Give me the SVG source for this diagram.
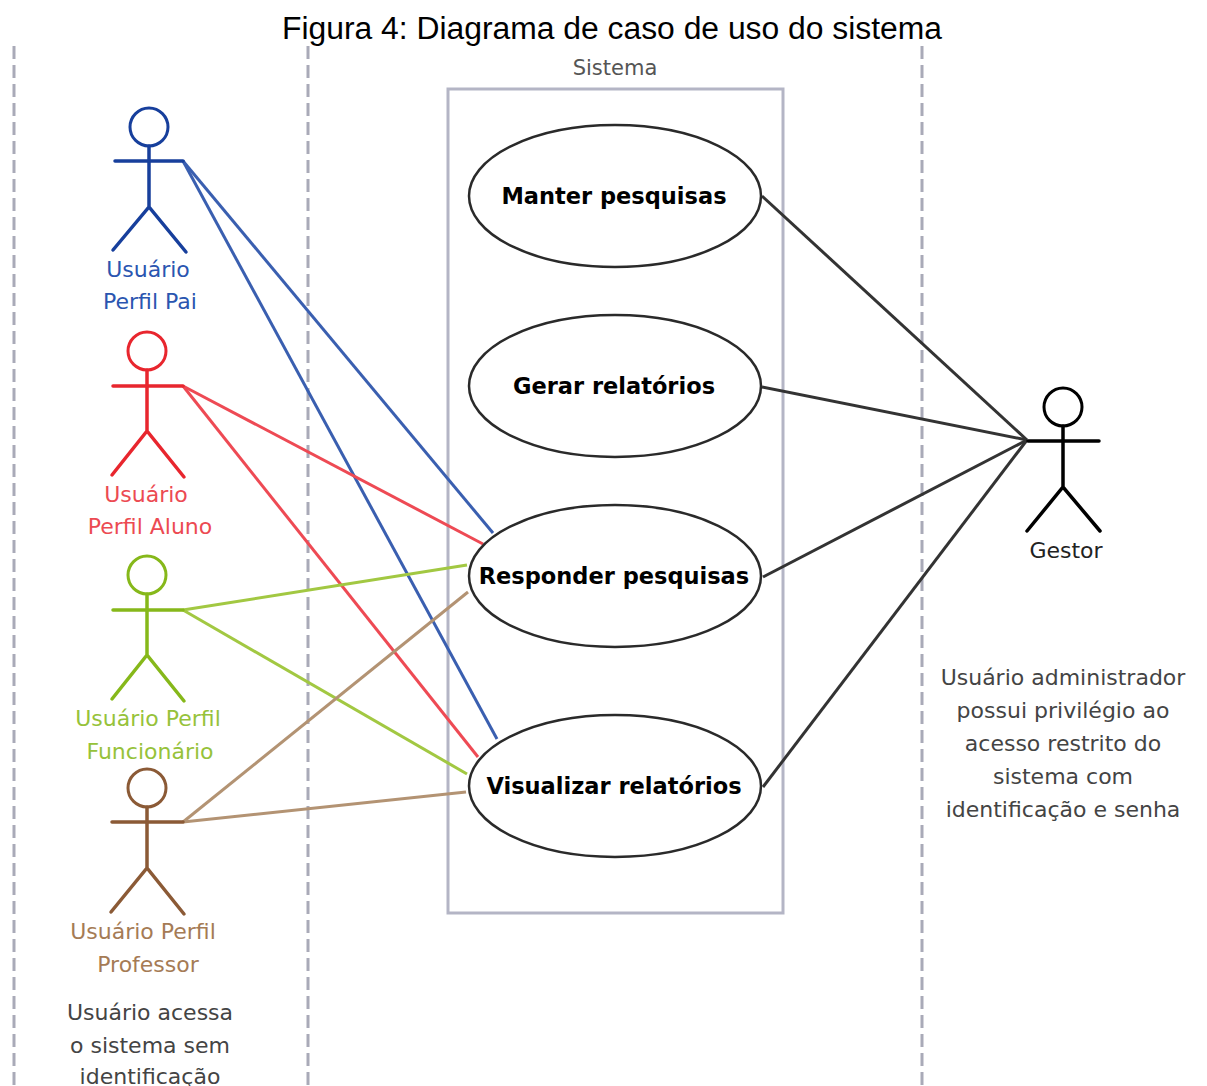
<svg xmlns="http://www.w3.org/2000/svg" width="1207" height="1086" viewBox="0 0 1207 1086">
<style>
.lane{stroke:#a9aab8;stroke-width:3;stroke-dasharray:13 6;fill:none}
.sys{fill:none;stroke:#b4b5c5;stroke-width:3}
.uc ellipse{fill:#fff;stroke:#2a2a2a;stroke-width:2.5}
.uc text{font-family:"DejaVu Sans",Verdana,sans-serif;font-weight:bold;font-size:22.5px;fill:#000;text-anchor:middle}
.actor circle{fill:#fff;stroke-width:3}
.actor path{fill:none;stroke-width:3.5;stroke-linecap:round}
.lbl{font-family:"DejaVu Sans",Verdana,sans-serif;font-size:22px;text-anchor:middle}
.note{font-family:"DejaVu Sans",Verdana,sans-serif;font-size:22px;text-anchor:middle;fill:#444}
.conn line{stroke-width:3;fill:none}
</style>
<rect width="1207" height="1086" fill="#fff"/>
<text x="612" y="39" font-family="Liberation Sans,Arial,sans-serif" font-size="31" text-anchor="middle" textLength="660" lengthAdjust="spacingAndGlyphs" fill="#000">Figura 4: Diagrama de caso de uso do sistema</text>
<g id="lanes">
<line class="lane" x1="14" y1="46" x2="14" y2="1086"/>
<line class="lane" x1="308" y1="46" x2="308" y2="1086"/>
<line class="lane" x1="922" y1="46" x2="922" y2="1086"/>
</g>
<g id="system">
<rect class="sys" x="448" y="89" width="335" height="824"/>
<text class="note" x="615" y="75" style="fill:#555;font-size:21px">Sistema</text>
</g>
<g id="connectors" class="conn">
<line x1="183" y1="161" x2="493" y2="533" stroke="#3a5fb0"/>
<line x1="183" y1="161" x2="497" y2="739" stroke="#3a5fb0"/>
<line x1="183" y1="386" x2="483" y2="544" stroke="#ee4a54"/>
<line x1="183" y1="386" x2="478" y2="757" stroke="#ee4a54"/>
<line x1="183" y1="610" x2="467" y2="565" stroke="#a2c842"/>
<line x1="183" y1="610" x2="467" y2="774" stroke="#a2c842"/>
<line x1="183" y1="822" x2="468" y2="592" stroke="#b39373"/>
<line x1="183" y1="822" x2="466" y2="792" stroke="#b39373"/>
<line x1="762" y1="196" x2="1027" y2="440" stroke="#333"/>
<line x1="762" y1="387" x2="1027" y2="440" stroke="#333"/>
<line x1="763" y1="577" x2="1027" y2="440" stroke="#333"/>
<line x1="763" y1="787" x2="1027" y2="440" stroke="#333"/>
</g>
<g id="uc-manter" class="uc">
<ellipse cx="615" cy="196" rx="146" ry="71"/>
<text x="614" y="204">Manter pesquisas</text>
</g>
<g id="uc-gerar" class="uc">
<ellipse cx="615" cy="386" rx="146" ry="71"/>
<text x="614" y="394">Gerar relatórios</text>
</g>
<g id="uc-responder" class="uc">
<ellipse cx="615" cy="576" rx="146" ry="71"/>
<text x="614" y="584">Responder pesquisas</text>
</g>
<g id="uc-visualizar" class="uc">
<ellipse cx="615" cy="786" rx="146" ry="71"/>
<text x="614" y="794">Visualizar relatórios</text>
</g>
<g id="actor-pai" class="actor">
<circle cx="149" cy="127" r="19" stroke="#173f9c"/>
<path d="M149 146V207M115 161H183M113 250L149 207L186 252" stroke="#173f9c"/>
<text class="lbl" x="148" y="277" fill="#2a55b0">Usuário</text>
<text class="lbl" x="150" y="309" fill="#2a55b0">Perfil Pai</text>
</g>
<g id="actor-aluno" class="actor">
<circle cx="147" cy="351" r="19" stroke="#e8262e"/>
<path d="M147 370V431M113 386H183M112 475L147 431L184 477" stroke="#e8262e"/>
<text class="lbl" x="146" y="502" fill="#ec4a52">Usuário</text>
<text class="lbl" x="150" y="534" fill="#ec4a52">Perfil Aluno</text>
</g>
<g id="actor-funcionario" class="actor">
<circle cx="147" cy="575" r="19" stroke="#86b81a"/>
<path d="M147 594V655M113 610H183M112 699L147 655L184 701" stroke="#86b81a"/>
<text class="lbl" x="148" y="726" fill="#96c23a">Usuário Perfil</text>
<text class="lbl" x="150" y="759" fill="#96c23a">Funcionário</text>
</g>
<g id="actor-professor" class="actor">
<circle cx="147" cy="788" r="19" stroke="#8b5a36"/>
<path d="M147 807V868M112 822H183M111 912L147 868L184 914" stroke="#8b5a36"/>
<text class="lbl" x="143" y="939" fill="#a57b55">Usuário Perfil</text>
<text class="lbl" x="148" y="972" fill="#a57b55">Professor</text>
</g>
<g id="note-left">
<text class="note" x="150" y="1020">Usuário acessa</text>
<text class="note" x="150" y="1053">o sistema sem</text>
<text class="note" x="150" y="1084">identificação</text>
</g>
<g id="actor-gestor" class="actor">
<circle cx="1063" cy="407" r="19" stroke="#000"/>
<path d="M1063 426V487M1028 441H1099M1027 531L1063 487L1100 531" stroke="#000"/>
<text class="lbl" x="1066" y="558" fill="#222">Gestor</text>
</g>
<g id="note-right">
<text class="note" x="1063" y="685">Usuário administrador</text>
<text class="note" x="1063" y="718">possui privilégio ao</text>
<text class="note" x="1063" y="751">acesso restrito do</text>
<text class="note" x="1063" y="784">sistema com</text>
<text class="note" x="1063" y="817">identificação e senha</text>
</g>
</svg>
